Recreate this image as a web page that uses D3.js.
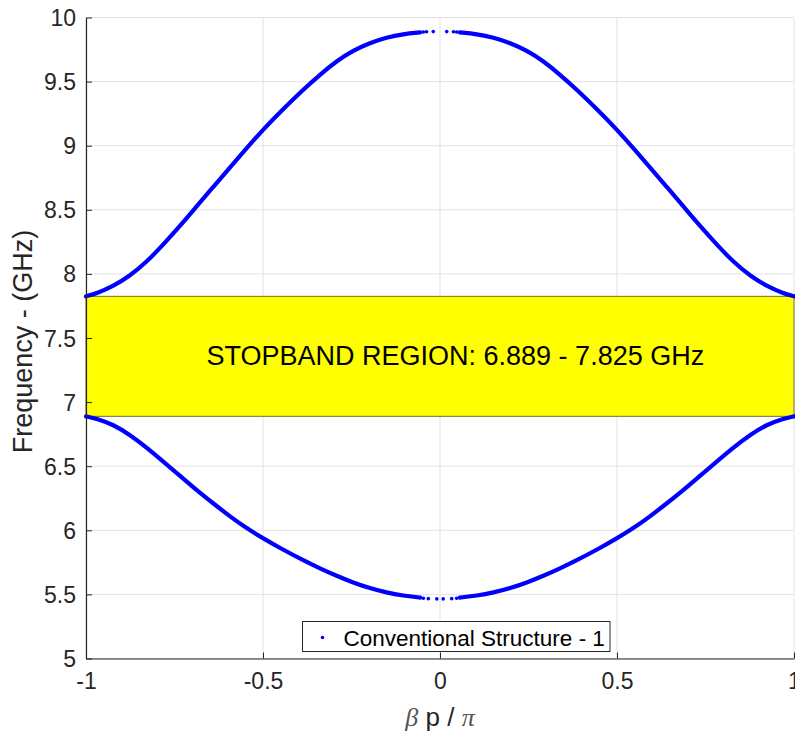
<!DOCTYPE html>
<html>
<head>
<meta charset="utf-8">
<script src="https://cdn.jsdelivr.net/npm/d3@7"></script>
<style>
  html, body { margin: 0; padding: 0; background: #fff; }
  svg { display: block; }
</style>
</head>
<body>
<svg id="chart" width="795" height="733"></svg>
<script>
// ---------- data ----------
const upperX = [-1.000, -0.970, -0.923, -0.876, -0.828, -0.782, -0.734, -0.687, -0.640, -0.593, -0.546, -0.499, -0.452, -0.386, -0.339, -0.292, -0.245, -0.198, -0.151, -0.104, -0.056,
                -0.047, -0.038, -0.019, 0.019, 0.038, 0.047,
                0.056, 0.104, 0.151, 0.198, 0.245, 0.292, 0.339, 0.386, 0.452, 0.499, 0.546, 0.593, 0.640, 0.687, 0.734, 0.782, 0.828, 0.876, 0.923, 0.970, 1.000];
const upperF = [7.825, 7.848, 7.905, 7.985, 8.095, 8.228, 8.375, 8.528, 8.680, 8.832, 8.982, 9.127, 9.262, 9.438, 9.555, 9.660, 9.743, 9.802, 9.845, 9.871, 9.884,
                9.887, 9.889, 9.890, 9.890, 9.889, 9.887,
                9.884, 9.871, 9.845, 9.802, 9.743, 9.660, 9.555, 9.438, 9.262, 9.127, 8.982, 8.832, 8.680, 8.528, 8.375, 8.228, 8.095, 7.985, 7.905, 7.848, 7.825];

const lowerX = [-1.000, -0.970, -0.923, -0.876, -0.828, -0.782, -0.734, -0.687, -0.640, -0.593, -0.546, -0.499, -0.452, -0.386, -0.339, -0.292, -0.245, -0.198, -0.151, -0.104, -0.056,
                -0.047, -0.033, -0.009, 0.009, 0.033, 0.047,
                0.056, 0.104, 0.151, 0.198, 0.245, 0.292, 0.339, 0.386, 0.452, 0.499, 0.546, 0.593, 0.640, 0.687, 0.734, 0.782, 0.828, 0.876, 0.923, 0.970, 1.000];
const lowerF = [6.889, 6.872, 6.825, 6.745, 6.645, 6.537, 6.424, 6.312, 6.209, 6.107, 6.016, 5.936, 5.862, 5.765, 5.703, 5.645, 5.592, 5.548, 5.514, 5.490, 5.475,
                5.470, 5.467, 5.465, 5.465, 5.467, 5.470,
                5.475, 5.490, 5.514, 5.548, 5.592, 5.645, 5.703, 5.765, 5.862, 5.936, 6.016, 6.107, 6.209, 6.312, 6.424, 6.537, 6.645, 6.745, 6.825, 6.872, 6.889];

const stopband = [6.889, 7.825];
const xTicks = [-1, -0.5, 0, 0.5, 1];
const yTicks = [5, 5.5, 6, 6.5, 7, 7.5, 8, 8.5, 9, 9.5, 10];
const seriesName = "Conventional Structure - 1";
const bandLabel = "STOPBAND REGION: 6.889 - 7.825 GHz";

// ---------- layout ----------
const svg = d3.select("#chart");
const L = 86, R = 794, T = 17.5, B = 658.5;
const x = d3.scaleLinear().domain([-1, 1]).range([L, R]);
const y = d3.scaleLinear().domain([5, 10]).range([B, T]);
const axisColor = "#262626";
const font = "'Liberation Sans', Arial, Helvetica, sans-serif";

// grid
const grid = svg.append("g");
grid.selectAll("line.gx").data(xTicks).enter().append("line")
  .attr("x1", d => x(d)).attr("x2", d => x(d)).attr("y1", T).attr("y2", B)
  .attr("stroke", "#e3e3e3").attr("stroke-width", 1);
grid.selectAll("line.gy").data(yTicks).enter().append("line")
  .attr("x1", L).attr("x2", R).attr("y1", d => y(d)).attr("y2", d => y(d))
  .attr("stroke", "#e3e3e3").attr("stroke-width", 1);

// stopband rectangle
svg.append("rect")
  .attr("x", x(-1)).attr("y", y(stopband[1]))
  .attr("width", x(1) - x(-1)).attr("height", y(stopband[0]) - y(stopband[1]))
  .attr("fill", "#ffff00").attr("stroke", "#6f6f3a").attr("stroke-width", 1);

svg.append("text")
  .attr("x", 206.5).attr("y", 365)
  .attr("font-family", font).attr("font-size", 27)
  .attr("fill", "#000").text(bandLabel);

// curves
const curves = [
  upperX.map((v, i) => ({x: v, f: upperF[i]})),
  lowerX.map((v, i) => ({x: v, f: lowerF[i]}))
];
const blue = "#0000ff";
const line = d3.line()
  .defined(d => Math.abs(d.x) >= 0.05)
  .x(d => x(d.x)).y(d => y(d.f))
  .curve(d3.curveBasis);
curves.forEach(c => {
  svg.append("path").attr("d", line(c))
    .attr("fill", "none").attr("stroke", blue).attr("stroke-width", 4.2)
    .attr("stroke-linecap", "round");
  svg.selectAll(null).data(c.filter(d => Math.abs(d.x) < 0.05)).enter().append("circle")
    .attr("cx", d => x(d.x)).attr("cy", d => y(d.f)).attr("r", 1.8).attr("fill", blue);
});

// axes
const fmt = d => d3.format("")(d).replace("\u2212", "-");
const xAxis = svg.append("g").attr("transform", `translate(0,${B})`)
  .call(d3.axisBottom(x).tickValues(xTicks).tickSizeInner(-6).tickSizeOuter(0).tickPadding(14).tickFormat(fmt));
const yAxis = svg.append("g").attr("transform", `translate(${L},0)`)
  .call(d3.axisLeft(y).tickValues(yTicks).tickSizeInner(-6).tickSizeOuter(0).tickPadding(10).tickFormat(fmt));
[xAxis, yAxis].forEach(a => {
  a.select(".domain").attr("stroke", axisColor).attr("stroke-width", 1.2);
  a.selectAll(".tick line").attr("stroke", axisColor).attr("stroke-width", 1);
  a.selectAll(".tick text").attr("fill", axisColor).attr("font-family", font).attr("font-size", 23);
});
xAxis.selectAll(".tick text").attr("dy", "0.71em");
yAxis.selectAll(".tick text").attr("dy", "0.35em");

// axis labels
const xl = svg.append("text")
  .attr("x", x(0)).attr("y", 726).attr("text-anchor", "middle")
  .attr("font-family", font).attr("font-size", 26).attr("fill", axisColor);
xl.append("tspan").attr("font-family", "'Liberation Serif', 'Times New Roman', serif").attr("font-style", "italic").attr("fill", "#555").text("β");
xl.append("tspan").text(" p / ");
xl.append("tspan").attr("font-family", "'Liberation Serif', 'Times New Roman', serif").attr("font-style", "italic").attr("fill", "#555").text("π");

svg.append("text")
  .attr("transform", `translate(32,341.5) rotate(-90)`)
  .attr("text-anchor", "middle")
  .attr("font-family", font).attr("font-size", 27).attr("fill", axisColor)
  .text("Frequency - (GHz)");

// legend
const lg = svg.append("g");
lg.append("rect").attr("x", 302.5).attr("y", 621.5).attr("width", 307.5).attr("height", 30)
  .attr("fill", "#fff").attr("stroke", axisColor).attr("stroke-width", 1);
lg.append("circle").attr("cx", 322.5).attr("cy", 637.5).attr("r", 1.8).attr("fill", blue);
lg.append("text").attr("x", 343.5).attr("y", 645.5)
  .attr("font-family", font).attr("font-size", 22.5).attr("fill", "#000").text(seriesName);
</script>
</body>
</html>
